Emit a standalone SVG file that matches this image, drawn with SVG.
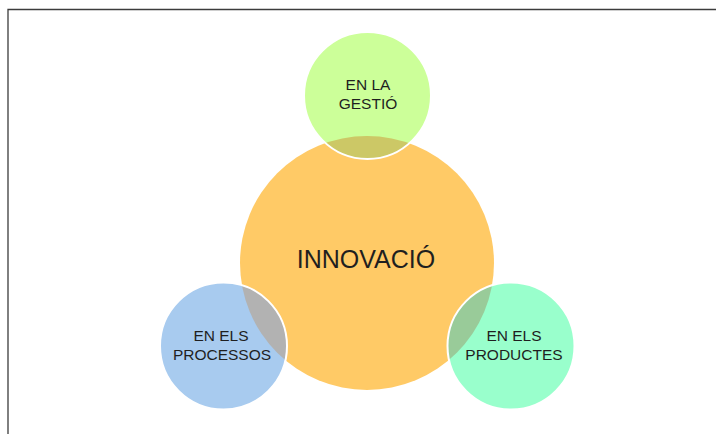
<svg xmlns="http://www.w3.org/2000/svg" width="716" height="434" viewBox="0 0 716 434">
  <style>
    .lbl { font-family: "Liberation Sans", Arial, sans-serif; font-size: 15.5px; fill: #1f1f1f; text-anchor: middle; }
    .big { font-family: "Liberation Sans", Arial, sans-serif; font-size: 25px; fill: #1f1f1f; text-anchor: middle; }
    .ring { fill: none; stroke: #ffffff; stroke-width: 2; }
  </style>
  <defs>
    <clipPath id="mainClip">
      <circle cx="367" cy="263" r="127"/>
    </clipPath>
  </defs>
  <rect x="0" y="0" width="716" height="434" fill="#ffffff"/>
  <g id="frame" fill="none" stroke="#3c3c3c" stroke-width="1.3">
    <path d="M8 434 V9.5 H716"/>
  </g>
  <g id="connectors"></g>
  <g id="innovacio">
    <circle cx="367" cy="263" r="127" fill="#FFCA66"/>
  </g>
  <g id="gestio">
    <circle cx="367.5" cy="95.5" r="63.5" fill="#CCFF99"/>
    <circle cx="367.5" cy="95.5" r="63.5" fill="#CCC866" clip-path="url(#mainClip)"/>
    <circle class="ring" cx="367.5" cy="95.5" r="63.5"/>
    <text class="lbl" x="368" y="90">EN LA</text>
    <text class="lbl" x="368" y="109">GESTIÓ</text>
  </g>
  <g id="processos">
    <circle cx="223.5" cy="346" r="63.5" fill="#A8CBEF"/>
    <circle cx="223.5" cy="346" r="63.5" fill="#B2B2B2" clip-path="url(#mainClip)"/>
    <circle class="ring" cx="223.5" cy="346" r="63.5"/>
    <text class="lbl" x="221" y="341">EN ELS</text>
    <text class="lbl" x="222" y="360">PROCESSOS</text>
  </g>
  <g id="productes">
    <circle cx="511" cy="346" r="63.5" fill="#99FFCC"/>
    <circle cx="511" cy="346" r="63.5" fill="#99CB99" clip-path="url(#mainClip)"/>
    <circle class="ring" cx="511" cy="346" r="63.5"/>
    <text class="lbl" x="514" y="341">EN ELS</text>
    <text class="lbl" x="514" y="360">PRODUCTES</text>
  </g>
  <g id="innovacio-label">
    <text class="big" x="366" y="268">INNOVACIÓ</text>
  </g>
</svg>
